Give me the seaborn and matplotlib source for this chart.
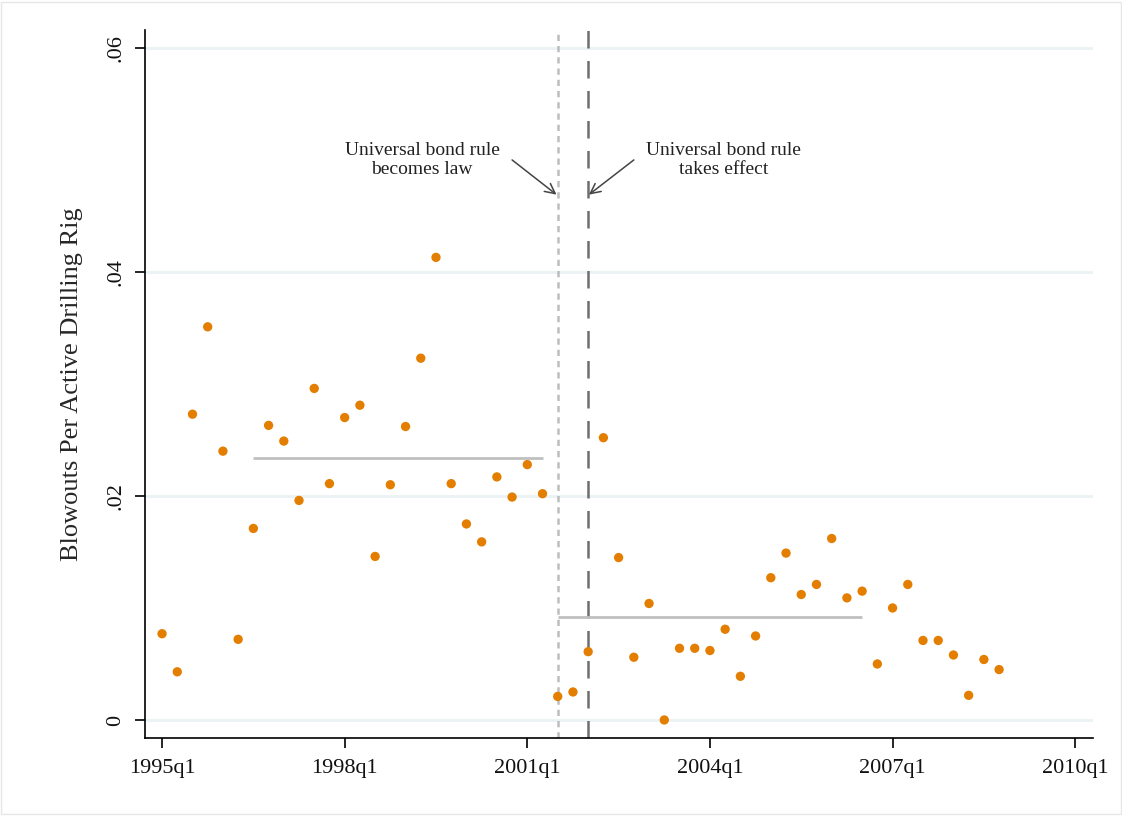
import numpy as np
import pandas as pd
import matplotlib
matplotlib.use("Agg")
import matplotlib.pyplot as plt
import seaborn as sns

# ---- data (quarterly, 1995q1 .. 2008q4) ----
start_year = 1995
rate = [0.0077, 0.0043, 0.0273, 0.0351,
        0.0240, 0.0072, 0.0171, 0.0263,
        0.0249, 0.0196, 0.0296, 0.0211,
        0.0270, 0.0281, 0.0146, 0.0210,
        0.0262, 0.0323, 0.0413, 0.0211,
        0.0175, 0.0159, 0.0217, 0.0199,
        0.0228, 0.0202, 0.0021, 0.0025,
        0.0061, 0.0252, 0.0145, 0.0056,
        0.0104, 0.0000, 0.0064, 0.0064,
        0.0062, 0.0081, 0.0039, 0.0075,
        0.0127, 0.0149, 0.0112, 0.0121,
        0.0162, 0.0109, 0.0115, 0.0050,
        0.0100, 0.0121, 0.0071, 0.0071,
        0.0058, 0.0022, 0.0054, 0.0045]

# mean lines: (start quarter, end quarter, level)
mean_pre = ("1996q3", "2001q2", 0.0234)
mean_post = ("2001q3", "2006q3", 0.0092)

law_quarter = "2001q3"
effect_quarter = "2002q1"

xtick_labels = ["1995q1", "1998q1", "2001q1", "2004q1", "2007q1", "2010q1"]
ytick_values = [0, 0.02, 0.04, 0.06]
ytick_labels = ["0", ".02", ".04", ".06"]

ann_law = "Universal bond rule\nbecomes law"
ann_effect = "Universal bond rule\ntakes effect"
ylabel = "Blowouts Per Active Drilling Rig"


def qidx(s):
    y, q = s.split("q")
    return (int(y) - start_year) * 4 + int(q) - 1


df = pd.DataFrame({"t": np.arange(len(rate)), "rate": rate})

sns.set_theme(style="white")
plt.rcParams["font.family"] = ["Liberation Serif", "DejaVu Serif"]

fig = plt.figure(figsize=(11.22, 8.16), dpi=100)
fig.patch.set_facecolor("white")
ax = fig.add_axes([145 / 1122, (816 - 738) / 816, (1093 - 145) / 1122, (738 - 30) / 816])

# grid
for v in ytick_values:
    ax.axhline(v, color="#eaf2f3", lw=2, zorder=0)

# vertical reference lines
ax.axvline(qidx(law_quarter), color="#bdbdbd", lw=1.8, ls=(0, (2.5, 2)), zorder=1)
ax.axvline(qidx(effect_quarter), color="#6e6e6e", lw=1.8, ls=(0, (7, 5)), zorder=1)

# mean lines
for a, b, lvl in (mean_pre, mean_post):
    ax.hlines(lvl, qidx(a), qidx(b), color="#c0c0c0", lw=2, zorder=2)

sns.scatterplot(data=df, x="t", y="rate", ax=ax, color="#e37e00", s=45,
                edgecolor="none", zorder=3, legend=False)

# annotations: text and arrows
ax.text(17.1, 0.0500, ann_law, ha="center", va="center", fontsize=14,
        color="#222222", linespacing=1.15)
ax.text(36.9, 0.0500, ann_effect, ha="center", va="center", fontsize=14,
        color="#222222", linespacing=1.15)
arrow_kw = dict(arrowstyle="->", color="#444444", lw=1.1, shrinkA=0, shrinkB=0,
                mutation_scale=18)
ax.annotate("", xy=(qidx(law_quarter) - 0.08, 0.0469), xytext=(23.0, 0.0500),
            arrowprops=arrow_kw)
ax.annotate("", xy=(qidx(effect_quarter) + 0.05, 0.0469), xytext=(31.0, 0.0500),
            arrowprops=arrow_kw)

ax.set_xlim(-1.12, 61.17)
ax.set_ylim(-0.00161, 0.0616)

ax.set_xticks([qidx(s) for s in xtick_labels])
ax.set_xticklabels(xtick_labels, fontsize=16)
ax.set_yticks(ytick_values)
ax.set_yticklabels(ytick_labels, fontsize=16, rotation=90, va="center")

ax.set_xlabel("")
ax.set_ylabel(ylabel, fontsize=19, labelpad=17)

for side in ("top", "right"):
    ax.spines[side].set_visible(False)
for side in ("left", "bottom"):
    ax.spines[side].set_color("black")
    ax.spines[side].set_linewidth(1.2)

ax.tick_params(axis="both", which="both", direction="out", length=7, width=1.2,
               color="black", bottom=True, left=True, labelcolor="#111111")
ax.tick_params(axis="x", pad=8)
ax.tick_params(axis="y", pad=7)

# faint outer frame
fig.add_artist(plt.Rectangle((0.001, 0.002), 0.998, 0.996, transform=fig.transFigure,
                             fill=False, edgecolor="#e6e6e6", lw=1))

fig.savefig("out.png", dpi=100, facecolor="white")
